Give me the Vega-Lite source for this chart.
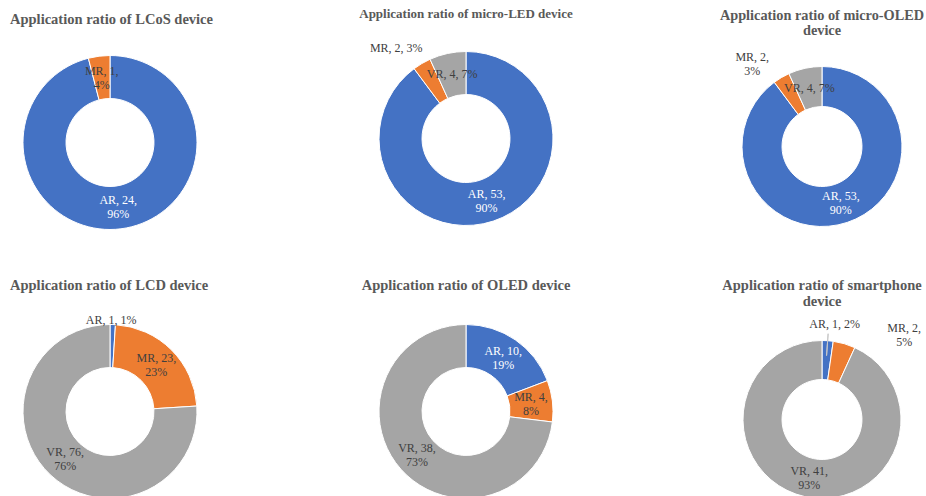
{
  "$schema": "https://vega.github.io/schema/vega-lite/v6.json",
  "padding": {"left": 10, "top": 7.5, "right": 0, "bottom": 0},
  "background": "white",
  "data": {"values": [
    {"panel": "LCoS", "cat": "AR", "value": 24, "pct": 96},
    {"panel": "LCoS", "cat": "MR", "value": 1, "pct": 4},
    {"panel": "micro-LED", "cat": "AR", "value": 53, "pct": 90},
    {"panel": "micro-LED", "cat": "MR", "value": 2, "pct": 3},
    {"panel": "micro-LED", "cat": "VR", "value": 4, "pct": 7},
    {"panel": "micro-OLED", "cat": "AR", "value": 53, "pct": 90},
    {"panel": "micro-OLED", "cat": "MR", "value": 2, "pct": 3},
    {"panel": "micro-OLED", "cat": "VR", "value": 4, "pct": 7},
    {"panel": "LCD", "cat": "AR", "value": 1, "pct": 1},
    {"panel": "LCD", "cat": "MR", "value": 23, "pct": 23},
    {"panel": "LCD", "cat": "VR", "value": 76, "pct": 76},
    {"panel": "OLED", "cat": "AR", "value": 10, "pct": 19},
    {"panel": "OLED", "cat": "MR", "value": 4, "pct": 8},
    {"panel": "OLED", "cat": "VR", "value": 38, "pct": 73},
    {"panel": "smartphone", "cat": "AR", "value": 1, "pct": 2},
    {"panel": "smartphone", "cat": "MR", "value": 2, "pct": 5},
    {"panel": "smartphone", "cat": "VR", "value": 41, "pct": 93}
  ]},
  "transform": [
    {"calculate": "datum.cat + ', ' + datum.value + ', ' + datum.pct + '%'", "as": "l1"},
    {"calculate": "datum.cat + ', ' + datum.value + ',\\n' + datum.pct + '%'", "as": "l2"}
  ],
  "columns": 3,
  "spacing": {"row": 150, "column": 176},
  "bounds": "flush",
  "resolve": {"scale": {"theta": "independent"}},
  "concat": [
    {
      "width": 180, "height": 166,
      "title": {"text": "Application ratio of LCoS device", "anchor": "start", "dx": -10, "offset": 26.5, "fontSize": 14.5},
      "transform": [{"filter": "datum.panel == 'LCoS'"}],
      "encoding": {"theta": {"field": "value", "type": "quantitative", "stack": true}},
      "layer": [
        {"mark": {"type": "arc", "innerRadius": 44, "outerRadius": 87, "stroke": "white", "strokeWidth": 1},
         "encoding": {"color": {"field": "cat", "type": "nominal", "scale": {"domain": ["AR", "MR", "VR"], "range": ["#4472C4", "#ED7D31", "#A5A5A5"]}, "legend": null}}},
        {"mark": {"type": "text", "radius": 65.5, "dy": -7},
         "encoding": {"detail": {"field": "cat"}, "text": {"field": "l2"},
           "color": {"condition": {"test": "datum.cat == 'AR'", "value": "white"}, "value": "#404040"}}}
      ]
    },
    {
      "width": 180, "height": 158,
      "title": {"text": "Application ratio of micro-LED device", "anchor": "middle", "offset": 9.3, "fontSize": 13},
      "transform": [{"filter": "datum.panel == 'micro-LED'"}],
      "encoding": {"theta": {"field": "value", "type": "quantitative", "stack": true}},
      "layer": [
        {"mark": {"type": "arc", "innerRadius": 44, "outerRadius": 87, "stroke": "white", "strokeWidth": 1},
         "encoding": {"color": {"field": "cat", "type": "nominal", "scale": {"domain": ["AR", "MR", "VR"], "range": ["#4472C4", "#ED7D31", "#A5A5A5"]}, "legend": null}}},
        {"mark": {"type": "text", "radius": 65.5, "dy": -7, "color": "white"},
         "encoding": {"detail": {"field": "cat"}, "text": {"condition": {"test": "datum.cat == 'AR'", "field": "l2"}, "value": ""}}},
        {"mark": {"type": "text", "radius": 65.5, "color": "#404040"},
         "encoding": {"detail": {"field": "cat"}, "text": {"condition": {"test": "datum.cat == 'VR'", "field": "l1"}, "value": ""}}},
        {"mark": {"type": "text", "radius": 100, "dx": -19, "dy": -4, "color": "#404040"},
         "encoding": {"detail": {"field": "cat"}, "text": {"condition": {"test": "datum.cat == 'MR'", "field": "l1"}, "value": ""}}}
      ]
    },
    {
      "width": 180, "height": 174,
      "title": {"text": ["Application ratio of micro-OLED", "device"], "anchor": "middle", "offset": 0.8, "fontSize": 14.3, "lineHeight": 15.5},
      "transform": [{"filter": "datum.panel == 'micro-OLED'"}],
      "encoding": {"theta": {"field": "value", "type": "quantitative", "stack": true}},
      "layer": [
        {"mark": {"type": "arc", "innerRadius": 40, "outerRadius": 80, "stroke": "white", "strokeWidth": 1},
         "encoding": {"color": {"field": "cat", "type": "nominal", "scale": {"domain": ["AR", "MR", "VR"], "range": ["#4472C4", "#ED7D31", "#A5A5A5"]}, "legend": null}}},
        {"mark": {"type": "text", "radius": 60, "dy": -7, "color": "white"},
         "encoding": {"detail": {"field": "cat"}, "text": {"condition": {"test": "datum.cat == 'AR'", "field": "l2"}, "value": ""}}},
        {"mark": {"type": "text", "radius": 60, "color": "#404040"},
         "encoding": {"detail": {"field": "cat"}, "text": {"condition": {"test": "datum.cat == 'VR'", "field": "l1"}, "value": ""}}},
        {"mark": {"type": "text", "radius": 100, "dx": -19, "dy": -3.5, "color": "#404040"},
         "encoding": {"detail": {"field": "cat"}, "text": {"condition": {"test": "datum.cat == 'MR'", "field": "l2"}, "value": ""}}}
      ]
    },
    {
      "width": 180, "height": 56,
      "title": {"text": "Application ratio of LCD device", "anchor": "start", "dx": -10, "offset": 20, "fontSize": 14.5},
      "transform": [
        {"filter": "datum.panel == 'LCD'"},
        {"calculate": "datum.cat == 'AR' ? '' : datum.l2", "as": "lab"}
      ],
      "encoding": {"theta": {"field": "value", "type": "quantitative", "stack": true}},
      "layer": [
        {"mark": {"type": "arc", "innerRadius": 44, "outerRadius": 87, "stroke": "white", "strokeWidth": 1},
         "encoding": {"color": {"field": "cat", "type": "nominal", "scale": {"domain": ["AR", "MR", "VR"], "range": ["#4472C4", "#ED7D31", "#A5A5A5"]}, "legend": null}}},
        {"mark": {"type": "text", "radius": 65.5, "dy": -7, "color": "#404040"},
         "encoding": {"detail": {"field": "cat"}, "text": {"field": "lab"}}},
        {"mark": {"type": "text", "radius": 100, "dx": -2, "dy": 8, "color": "#404040"},
         "encoding": {"detail": {"field": "cat"}, "text": {"condition": {"test": "datum.cat == 'AR'", "field": "l1"}, "value": ""}}}
      ]
    },
    {
      "width": 180, "height": 56,
      "title": {"text": "Application ratio of OLED device", "anchor": "middle", "offset": 29, "fontSize": 14.5},
      "transform": [{"filter": "datum.panel == 'OLED'"}],
      "encoding": {"theta": {"field": "value", "type": "quantitative", "stack": true}},
      "layer": [
        {"mark": {"type": "arc", "innerRadius": 44, "outerRadius": 87, "stroke": "white", "strokeWidth": 1},
         "encoding": {"color": {"field": "cat", "type": "nominal", "scale": {"domain": ["AR", "MR", "VR"], "range": ["#4472C4", "#ED7D31", "#A5A5A5"]}, "legend": null}}},
        {"mark": {"type": "text", "radius": 65.5, "dy": -7},
         "encoding": {"detail": {"field": "cat"}, "text": {"field": "l2"},
           "color": {"condition": {"test": "datum.cat == 'AR'", "value": "white"}, "value": "#404040"}}}
      ]
    },
    {
      "width": 180, "height": 72,
      "title": {"text": ["Application ratio of smartphone", "device"], "anchor": "middle", "offset": 7.8, "fontSize": 14.5, "lineHeight": 16},
      "transform": [
        {"filter": "datum.panel == 'smartphone'"},
        {"calculate": "datum.cat == 'VR' ? datum.l2 : ''", "as": "lab"}
      ],
      "encoding": {"theta": {"field": "value", "type": "quantitative", "stack": true}},
      "layer": [
        {"mark": {"type": "arc", "innerRadius": 40, "outerRadius": 79, "stroke": "white", "strokeWidth": 1},
         "encoding": {"color": {"field": "cat", "type": "nominal", "scale": {"domain": ["AR", "MR", "VR"], "range": ["#4472C4", "#ED7D31", "#A5A5A5"]}, "legend": null}}},
        {"mark": {"type": "arc", "innerRadius": 64, "outerRadius": 86, "padAngle": 3, "fill": "transparent", "stroke": "#C8C8C8", "strokeWidth": 1},
         "encoding": {"detail": {"field": "cat"},
           "strokeOpacity": {"condition": {"test": "datum.cat == 'AR'", "value": 1}, "value": 0}}},
        {"mark": {"type": "text", "radius": 60, "dy": -7, "color": "#404040"},
         "encoding": {"detail": {"field": "cat"}, "text": {"field": "lab"}}},
        {"mark": {"type": "text", "radius": 100, "dx": 5.5, "dy": 4, "color": "#404040"},
         "encoding": {"detail": {"field": "cat"}, "text": {"condition": {"test": "datum.cat == 'AR'", "field": "l1"}, "value": ""}}},
        {"mark": {"type": "text", "radius": 100, "dx": 54, "dy": 4.5, "color": "#404040"},
         "encoding": {"detail": {"field": "cat"}, "text": {"condition": {"test": "datum.cat == 'MR'", "field": "l2"}, "value": ""}}}
      ]
    }
  ],
  "config": {
    "view": {"stroke": null},
    "title": {"font": "Liberation Serif", "fontWeight": "bold", "color": "#595959", "baseline": "alphabetic", "frame": "group", "lineHeight": 16},
    "text": {"font": "Liberation Serif", "fontSize": 12, "lineHeight": 14, "lineBreak": "\n", "align": "center", "baseline": "middle"}
  }
}
